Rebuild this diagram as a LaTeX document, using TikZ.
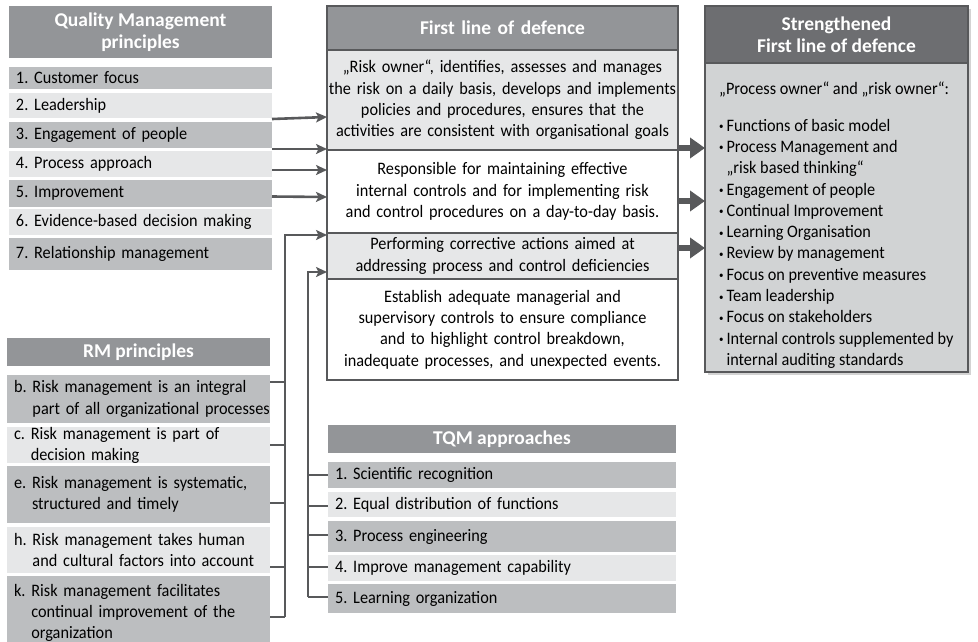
\documentclass[tikz,border=0pt]{standalone}
\usepackage{fontspec}
\setmainfont{Carlito}[FakeStretch=0.93, BoldFeatures={FakeStretch=1.0}]
\usetikzlibrary{arrows.meta,shadows,calc}
\definecolor{hdr}{HTML}{939598}
\definecolor{dk}{HTML}{BCBEC0}
\definecolor{lt}{HTML}{E6E7E8}
\definecolor{ln}{HTML}{58595B}
\definecolor{shdr}{HTML}{6D6E71}
\definecolor{sbody}{HTML}{D1D3D4}
\frenchspacing
\hyphenpenalty=10000
\newcommand\itf{\fontsize{17.5}{21.3}\selectfont}
\newcommand\hdf{\fontsize{19.5}{22}\selectfont\bfseries\color{white}}
\newcommand\bul{\raisebox{1.5pt}{\scalebox{0.55}{•}}\,}
\begin{document}
\begin{tikzpicture}[x=1pt,y=-1pt,
  hbox/.style={anchor=north west, outer sep=0pt, inner sep=0pt, fill=hdr, minimum width=#1, align=center, font=\hdf},
  qitem/.style={anchor=north west, outer sep=0pt, inner xsep=7pt, inner ysep=0pt, text width=249pt, align=left, font=\itf},
  titem/.style={anchor=north west, outer sep=0pt, inner xsep=7pt, inner ysep=0pt, text width=334pt, align=left, font=\itf},
  frow/.style={anchor=north west, outer sep=0pt, inner sep=0pt, minimum width=351pt, text width=349pt, align=center, font=\itf},
  thinarr/.style={draw=ln, line width=2.6pt, -{Stealth[length=11pt,width=10pt,inset=2.5pt]}},
  bigarr/.style={draw=ln, line width=6pt, -{Triangle[length=15pt,width=20pt]}},
  conn/.style={draw=ln, line width=2pt},
]
\useasboundingbox (0,0) rectangle (978,641);
% Quality management principles
\node[hbox=263pt, minimum height=52pt] (qh) at (9,6) {Quality Management\\principles};
\node[qitem, fill=dk, minimum height=22pt] (q1) at (9,67) {1. Customer focus};
\node[qitem, fill=lt, minimum height=25pt] (q2) at (9,93) {2. Leadership};
\node[qitem, fill=dk, minimum height=26pt] (q3) at (9,122) {3. Engagement of people};
\node[qitem, fill=lt, minimum height=26pt] (q4) at (9,151) {4. Process approach};
\node[qitem, fill=dk, minimum height=27pt] (q5) at (9,180) {5. Improvement};
\node[qitem, fill=lt, minimum height=26pt] (q6) at (9,209) {\mbox{6. Evidence-based decision making}};
\node[qitem, fill=dk, minimum height=32pt] (q7) at (9,238) {7. Relationship management};
% RM principles
\node[hbox=263pt, minimum height=28pt] (rh) at (7,338) {RM principles};
\node[qitem, fill=dk, minimum height=48pt] (rb) at (7,375) {\mbox{b. Risk management is an integral}\\\mbox{\hphantom{b. }part of all organizational processes}};
\node[qitem, fill=lt, minimum height=36pt] (rc) at (7,427) {\mbox{c. Risk management is part of}\\\mbox{\hphantom{c. }decision making}};
\node[qitem, fill=dk, minimum height=57pt] (re) at (7,466) {\mbox{e. Risk management is systematic,}\\\mbox{\hphantom{e. }structured and timely}};
\node[qitem, fill=lt, minimum height=46pt] (rhh) at (7,527) {\mbox{h. Risk management takes human}\\\mbox{\hphantom{h. }and cultural factors into account}};
\node[qitem, fill=dk, minimum height=74pt] (rk) at (7,576) {\mbox{k. Risk management facilitates}\\\mbox{\hphantom{k. }continual improvement of the}\\\mbox{\hphantom{k. }organization}};
% TQM approaches
\node[hbox=348pt, minimum height=28pt] (th) at (328,425) {TQM approaches};
\node[titem, fill=dk, minimum height=26pt] (t1) at (328,462) {1. Scientific recognition};
\node[titem, fill=lt, minimum height=25pt] (t2) at (328,492) {2. Equal distribution of functions};
\node[titem, fill=dk, minimum height=31pt] (t3) at (328,521) {3. Process engineering};
\node[titem, fill=lt, minimum height=26pt] (t4) at (328,555) {4. Improve management capability};
\node[titem, fill=dk, minimum height=29pt] (t5) at (328,584) {5. Learning organization};
% First line of defence
\node[frow, fill=hdr, minimum height=44pt, font=\hdf] (fh) at (327,6) {First line of defence};
\node[frow, fill=lt, minimum height=100pt] (f1) at (327,50) {„Risk owner“, identifies, assesses and manages\\\mbox{the risk on a daily basis, develops and implements}\\policies and procedures, ensures that the\\\mbox{activities are consistent with organisational goals}};
\node[frow, fill=white, minimum height=83pt] (f2) at (327,150) {Responsible for maintaining effective\\internal controls and for implementing risk\\\mbox{and control procedures on a day-to-day basis.}};
\node[frow, fill=lt, minimum height=46pt] (f3) at (327,233) {Performing corrective actions aimed at\\addressing process and control deficiencies};
\node[frow, fill=white, minimum height=101pt] (f4) at (327,279) {Establish adequate managerial and\\supervisory controls to ensure compliance\\and to highlight control breakdown,\\\mbox{inadequate processes, and unexpected events.}};
\node[anchor=north west, outer sep=0pt, inner sep=0pt, minimum width=351pt, minimum height=374pt, draw=ln, line width=2.6pt] (fld) at (327,6) {};
\draw[ln, line width=2.6pt] (f1.north west) -- (f1.north east) (f2.north west) -- (f2.north east) (f3.north west) -- (f3.north east) (f4.north west) -- (f4.north east);
% Strengthened first line of defence
\node[anchor=north west, outer sep=0pt, inner sep=0pt, minimum width=263pt, minimum height=366pt, fill=sbody, draw=ln, line width=2.2pt, drop shadow={shadow xshift=2.5pt, shadow yshift=-2.5pt, opacity=0.35}] (sfld) at (705,6) {};
\node[anchor=north west, outer sep=0pt, inner sep=0pt, minimum width=263pt, minimum height=57pt, fill=shdr, draw=ln, line width=2.2pt, align=center, font=\hdf] (sh) at (705,6) {Strengthened\\First line of defence};
\node[anchor=north west, inner sep=0pt, align=left, font=\itf] (sb) at (719,82) {„Process owner“ and „risk owner“:\\[15pt]
\bul Functions of basic model\\
\bul Process Management and\\
\hphantom{\bul}„risk based thinking“\\
\bul Engagement of people\\
\bul Continual Improvement\\
\bul Learning Organisation\\
\bul Review by management\\
\bul Focus on preventive measures\\
\bul Team leadership\\
\bul Focus on stakeholders\\
\bul Internal controls supplemented by\\
\hphantom{\bul}internal auditing standards};
% arrows from QM principles
\draw[thinarr] ([yshift=-1pt]q2.south east) -- (fld.west |- 0,117);
\draw[thinarr] ([yshift=-1pt]q3.south east) -- (fld.west |- 0,149);
\draw[thinarr] ([yshift=-6pt]q4.east) -- (fld.west |- 0,170);
\draw[thinarr] ([yshift=-3pt]q5.east) -- (fld.west |- 0,197);
% RM connector bus
\coordinate (rbus) at (285,617);
\draw[conn] (rb.east |- 0,382) -- (rbus |- 0,382);
\draw[conn] (rc.east |- 0,445) -- (rbus |- 0,445);
\draw[conn] (re.east |- 0,503) -- (rbus |- 0,503);
\draw[conn] (rhh.east |- 0,567) -- (rbus |- 0,567);
\draw[conn] (rk.east |- 0,617) -- (rbus);
\draw[thinarr, line width=2pt] (rbus) -- (rbus |- 0,235) -- (fld.west |- 0,235);
% TQM connector bus
\coordinate (tbus) at (308,597);
\draw[conn] (tbus |- 0,475) -- (t1.west |- 0,475);
\draw[conn] (tbus |- 0,506) -- (t2.west |- 0,506);
\draw[conn] (tbus |- 0,535) -- (t3.west |- 0,535);
\draw[conn] (tbus |- 0,567) -- (t4.west |- 0,567);
\draw[conn] (tbus) -- (t5.west |- tbus);
\draw[thinarr] (tbus) -- (tbus |- 0,272) -- (fld.west |- 0,272);
% big arrows to strengthened line
\draw[bigarr] (fld.east |- 0,148) -- (sfld.west |- 0,148);
\draw[bigarr] (fld.east |- 0,201) -- (sfld.west |- 0,201);
\draw[bigarr] (fld.east |- 0,248) -- (sfld.west |- 0,248);
\end{tikzpicture}
\end{document}
